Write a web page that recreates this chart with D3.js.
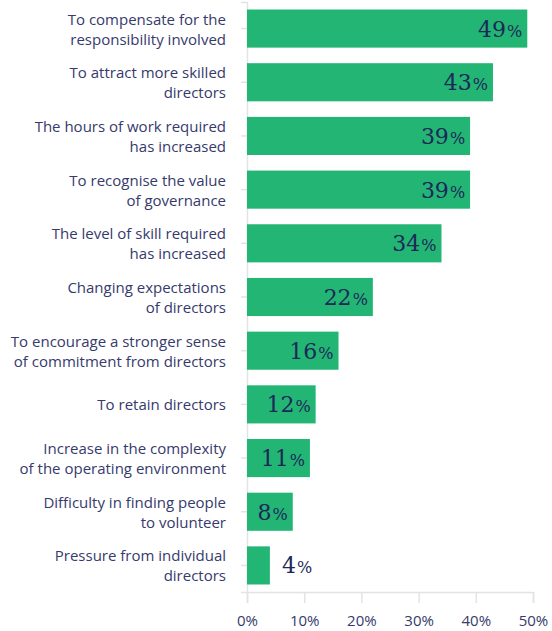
<!DOCTYPE html>
<html>
<head>
<meta charset="utf-8">
<script src="https://cdn.jsdelivr.net/npm/d3@7"></script>
<style>
  body { margin: 0; background: #fff; }
  svg { display: block; }
</style>
</head>
<body>
<svg id="chart" width="552" height="631"></svg>
<script>
// Reasons for paying directors, share of respondents
const categories = [
  ["To compensate for the", "responsibility involved"],
  ["To attract more skilled", "directors"],
  ["The hours of work required", "has increased"],
  ["To recognise the value", "of governance"],
  ["The level of skill required", "has increased"],
  ["Changing expectations", "of directors"],
  ["To encourage a stronger sense", "of commitment from directors"],
  ["To retain directors"],
  ["Increase in the complexity", "of the operating environment"],
  ["Difficulty in finding people", "to volunteer"],
  ["Pressure from individual", "directors"]
];
const values = [49, 43, 39, 39, 34, 22, 16, 12, 11, 8, 4];
const tickValues = [0, 10, 20, 30, 40, 50];

const svg = d3.select("#chart");
const plot = { left: 247, right: 533, top: 2, bottom: 592 };
const barColor = "#23b574";
const textColor = "#363a6c";
const numColor = "#1c2858";
const axisColor = "#e3e3e3";

const x = d3.scaleLinear().domain([0, 50]).range([plot.left, plot.right]);
const y = d3.scaleBand().domain(d3.range(categories.length))
  .range([plot.top, plot.bottom]).paddingInner(0.29).paddingOuter(0.14);

// x axis
const xAxis = svg.append("g")
  .attr("transform", `translate(0,${plot.bottom})`)
  .call(d3.axisBottom(x).tickValues(tickValues).tickFormat(d => d + "%").tickSize(11).tickPadding(12));
xAxis.select(".domain").attr("stroke", axisColor).attr("stroke-width", 1.5);
xAxis.selectAll(".tick line").attr("stroke", axisColor).attr("stroke-width", 1.5);
xAxis.selectAll(".tick text")
  .attr("fill", textColor)
  .style("font-family", "'Open Sans', sans-serif")
  .style("font-size", "15px");

// y axis
const yAxis = svg.append("g")
  .attr("transform", `translate(${plot.left},0)`)
  .call(d3.axisLeft(y).tickSize(6).tickFormat(""));
yAxis.select(".domain").attr("stroke", axisColor).attr("stroke-width", 1.5);
yAxis.selectAll(".tick line").attr("stroke", axisColor).attr("stroke-width", 1.5);

// category labels
const lineH = 20;
const labels = svg.append("g")
  .style("font-family", "'Open Sans', sans-serif")
  .style("font-size", "15px")
  .attr("fill", textColor)
  .attr("text-anchor", "end");
categories.forEach((lines, i) => {
  const cy = y(i) + y.bandwidth() / 2;
  const t = labels.append("text").attr("x", 226);
  lines.forEach((ln, j) => {
    t.append("tspan")
      .attr("x", 226)
      .attr("y", cy + (j - (lines.length - 1) / 2) * lineH + 6)
      .text(ln);
  });
});

// bars
svg.append("g").selectAll("rect")
  .data(values)
  .join("rect")
  .attr("x", x(0))
  .attr("y", (d, i) => y(i))
  .attr("width", d => x(d) - x(0))
  .attr("height", y.bandwidth())
  .attr("fill", barColor);

// value labels
const vl = svg.append("g")
  .style("font-family", "'DejaVu Serif', serif")
  .attr("fill", numColor);
values.forEach((v, i) => {
  const cy = y(i) + y.bandwidth() / 2;
  const inside = v >= 6;
  const t = vl.append("text")
    .attr("x", inside ? x(v) - 5 : x(v) + 12)
    .attr("y", cy + 8)
    .attr("text-anchor", inside ? "end" : "start");
  t.append("tspan").style("font-size", "22px").text(v);
  t.append("tspan").style("font-size", "16px").attr("dx", 1).text("%");
});
</script>
</body>
</html>
